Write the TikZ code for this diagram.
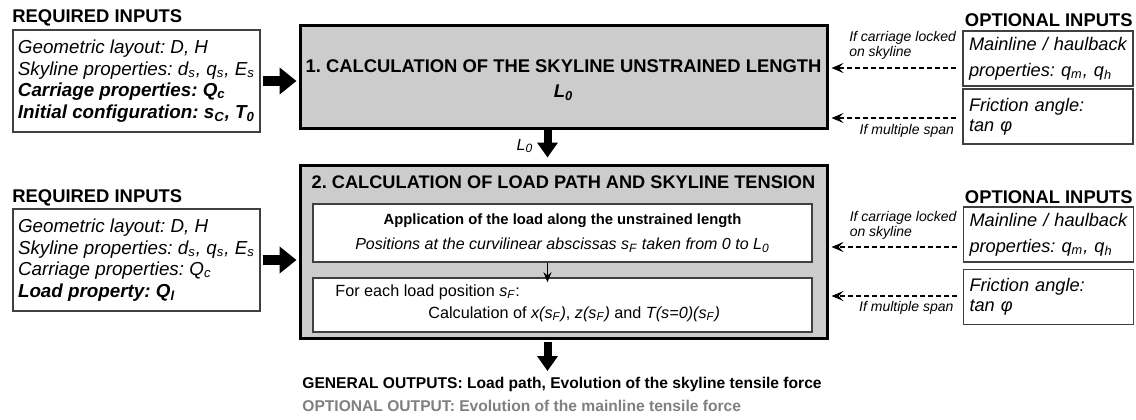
\documentclass[tikz,border=0pt]{standalone}
\usepackage{fontspec}
\setmainfont{Liberation Sans}
\usetikzlibrary{arrows.meta,positioning}
\definecolor{boxgray}{HTML}{CCCCCC}
\definecolor{framegray}{HTML}{404040}
\definecolor{outgray}{HTML}{808080}
\newcommand{\sbs}[1]{\textsubscript{#1}}
\frenchspacing
\begin{document}
\begin{tikzpicture}[x=0.5pt,y=-0.5pt,
	head/.style={inner sep=0pt,font=\fontsize{9.2}{11}\selectfont\bfseries},
	inbox/.style={draw=framegray,line width=0.7pt,inner sep=0pt,minimum width=123.5pt,
		minimum height=51pt,align=left,font=\fontsize{9.4}{10.85}\selectfont\itshape},
	optbox/.style={draw=framegray,line width=0.7pt,inner xsep=3pt,inner ysep=0pt,text width=79pt,
		minimum height=27.5pt,align=left,font=\fontsize{9.1}{10}\selectfont\itshape},
	calcbox/.style={draw,line width=1.5pt,fill=boxgray,minimum width=263.5pt,inner sep=0pt},
	subbox/.style={draw=framegray,line width=0.75pt,fill=white,minimum width=249.5pt,inner sep=0pt},
	lbl/.style={inner sep=0pt,font=\fontsize{7}{7.5}\selectfont\itshape},
	bigarrow/.style={line width=5pt,-{Triangle[length=8.5pt,width=13pt]},shorten <=1pt,shorten >=1pt},
	downarrow/.style={line width=4pt,-{Triangle[length=7.5pt,width=10pt]}},
	optarrow/.style={line width=0.75pt,dash pattern=on 2.5pt off 1.5pt,
		-{Stealth[length=6pt,width=5pt,inset=2.5pt]},shorten <=3pt,shorten >=1.5pt},
	]
	\useasboundingbox (0,0) rectangle (1136,419);
	% first row
	\node[head,anchor=west] (req1h) at (12,17.5) {REQUIRED INPUTS};
	\node[inbox] (req1) at (136.5,81) {Geometric layout: D, H\\
		Skyline properties: d\sbs{s}, q\sbs{s}, E\sbs{s}\\
		\textbf{Carriage properties: Q\sbs{c}}\\
		\textbf{Initial configuration: s\sbs{C}, T\sbs{0}}};
	\node[calcbox,minimum height=51.5pt] (calc1) at (563.5,76.5) {};
	\node[head,align=center] (calc1t) at (563.5,80)
		{1. CALCULATION OF THE SKYLINE UNSTRAINED LENGTH\\[1.5pt]\textit{L\sbs{0}}};
	\node[head,anchor=east] (opt1h) at (1133,20) {OPTIONAL INPUTS};
	\node[optbox] (opt1a) at (1048,58.5) {Mainline / haulback\\[3pt]properties: q\sbs{m}, q\sbs{h}};
	\node[optbox] (opt1b) at (1048,116.5) {Friction angle:\\tan φ};
	%
	\draw[bigarrow] (req1.east) -- (req1.east -| calc1.west);
	\coordinate (d1) at ([yshift=-4.75pt]opt1a.west);
	\coordinate (d2) at ([yshift=-0.75pt]opt1b.west);
	\draw[optarrow] (d1) -- (d1 -| calc1.east);
	\draw[optarrow] (d2) -- (d2 -| calc1.east);
	\node[lbl,align=left,above left=4pt and 3pt of d1] (lab1) {If carriage locked\\on skyline};
	\node[lbl,below left=3pt and 4pt of d2] (lab2) {If multiple span};
	% second row
	\node[head,anchor=west] (req2h) at (12,198) {REQUIRED INPUTS};
	\node[inbox] (req2) at (136.5,260) {Geometric layout: D, H\\
		Skyline properties: d\sbs{s}, q\sbs{s}, E\sbs{s}\\
		Carriage properties: Q\sbs{c}\\
		\textbf{Load property: Q\sbs{l}}};
	\node[calcbox,minimum height=86.5pt] (calc2) at (563.5,251.5) {};
	\node[head,font=\fontsize{9.1}{11}\selectfont\bfseries] (calc2t) at (563.5,182)
		{2. CALCULATION OF LOAD PATH AND SKYLINE TENSION};
	\node[subbox,minimum height=29pt,align=center,font=\fontsize{8}{12.5}\selectfont] (apply) at (562.5,233)
		{{\fontsize{7.4}{12.5}\selectfont\bfseries Application of the load along the unstrained length}\\
		\textit{Positions at the curvilinear abscissas s\sbs{F} taken from 0 to L\sbs{0}}};
	\node[subbox,minimum height=27pt] (each) at (562.5,305) {};
	\node[inner sep=0pt,anchor=west,font=\fontsize{8.1}{9}\selectfont] (each1) at (335,292)
		{For each load position \textit{s\sbs{F}}:};
	\node[inner sep=0pt,anchor=west,font=\fontsize{8.1}{9}\selectfont] (each2) at (428,314)
		{Calculation of \textit{x(s\sbs{F})}, \textit{z(s\sbs{F})} and \textit{T(s=0)(s\sbs{F})}};
	\node[head,anchor=east] (opt2h) at (1133,197) {OPTIONAL INPUTS};
	\node[optbox] (opt2a) at (1048.5,234.5) {Mainline / haulback\\[3pt]properties: q\sbs{m}, q\sbs{h}};
	\node[optbox] (opt2b) at (1048.5,297) {Friction angle:\\tan φ};
	%
	\draw[downarrow,shorten >=3pt] ([xshift=-8pt]calc1.south) -- ([xshift=-8pt]calc2.north);
	\node[lbl,font=\fontsize{8}{9}\selectfont\itshape] (l0) at (525,146) {L\sbs{0}};
	\draw[bigarrow] (req2.east) -- (req2.east -| calc2.west);
	\draw[line width=0.7pt,-{Stealth[length=5pt,width=4pt]},shorten >=-2.5pt]
		([xshift=-7.5pt]apply.south) -- ([xshift=-7.5pt]each.north);
	\coordinate (d3) at ([yshift=-6.25pt]opt2a.west);
	\coordinate (d4) at ([yshift=0.5pt]opt2b.west);
	\draw[optarrow] (d3) -- (d3 -| calc2.east);
	\draw[optarrow] (d4) -- (d4 -| calc2.east);
	\node[lbl,align=left,above left=3.5pt and 3pt of d3] (lab3) {If carriage locked\\on skyline};
	\node[lbl,below left=2.5pt and 4.5pt of d4] (lab4) {If multiple span};
	% outputs
	\coordinate (outtip) at (547.5,371);
	\draw[downarrow,shorten <=1pt] (outtip |- calc2.south) -- (outtip);
	\node[inner sep=0pt,anchor=west,font=\fontsize{7.8}{9}\selectfont\bfseries] (gen) at (302,384)
		{GENERAL OUTPUTS: Load path, Evolution of the skyline tensile force};
	\node[inner sep=0pt,anchor=west,text=outgray,font=\fontsize{7.8}{9}\selectfont\bfseries] (optout) at (302,406)
		{OPTIONAL OUTPUT: Evolution of the mainline tensile force};
\end{tikzpicture}
\end{document}
